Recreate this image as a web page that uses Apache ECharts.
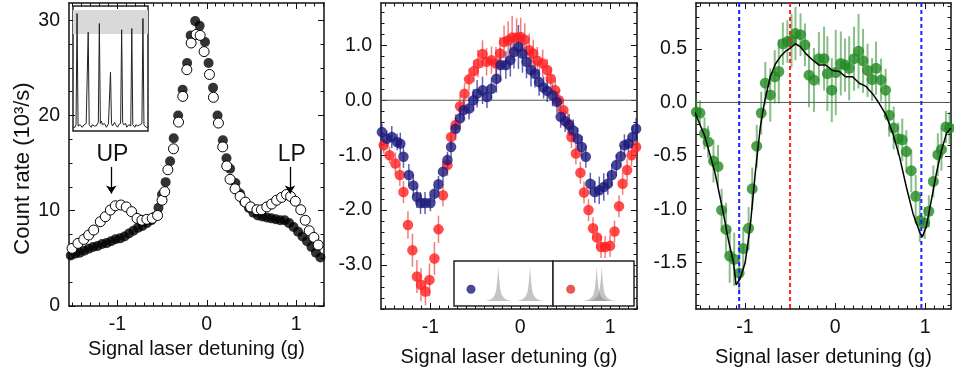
<!DOCTYPE html>
<html>
<head>
<meta charset="utf-8">
<script src="https://cdn.jsdelivr.net/npm/echarts@6/dist/echarts.min.js"></script>
<style>
  html, body { margin: 0; padding: 0; background: #fff; }
  #chart { width: 954px; height: 373px; }
</style>
</head>
<body>
<div id="chart"></div>
<script>
// panel 1: count rate (10^3/s), filled vs open circles
var p1FilledX = [-1.52,-1.47,-1.42,-1.37,-1.32,-1.27,-1.22,-1.17,-1.12,-1.07,-1.02,-0.97,-0.92,-0.87,-0.82,-0.77,-0.72,-0.67,-0.62,-0.58,-0.54,-0.50,-0.46,-0.41,-0.37,-0.32,-0.27,-0.22,-0.18,-0.13,-0.08,-0.02,0.02,0.07,0.12,0.18,0.22,0.26,0.32,0.37,0.42,0.47,0.52,0.57,0.62,0.67,0.72,0.77,0.82,0.87,0.92,0.97,1.02,1.07,1.12,1.17,1.22,1.27];
var p1FilledY = [5.3,5.5,5.6,5.8,6.0,6.2,6.3,6.5,6.6,6.8,7.0,7.1,7.3,7.6,7.9,8.2,8.4,8.7,9.0,9.4,10.3,11.7,13.0,15.2,17.6,20.0,22.7,25.5,28.4,29.9,29.4,27.7,25.5,22.9,20.0,17.4,15.5,14.4,12.9,11.8,10.9,10.3,9.8,9.5,9.4,9.3,9.2,9.1,9.0,9.0,8.7,8.3,7.8,7.3,6.8,6.2,5.6,5.1];
var p1OpenX = [-1.506,-1.44,-1.375,-1.32,-1.264,-1.19,-1.134,-1.078,-1.022,-0.96,-0.90,-0.84,-0.78,-0.725,-0.67,-0.61,-0.55,-0.50,-0.47,-0.435,-0.372,-0.316,-0.268,-0.223,-0.175,-0.119,-0.074,-0.03,0.03,0.074,0.13,0.178,0.223,0.26,0.316,0.372,0.43,0.49,0.56,0.61,0.67,0.725,0.78,0.836,0.89,0.937,0.99,1.05,1.10,1.145,1.197,1.245];
var p1OpenY = [6.05,6.57,6.99,7.45,7.97,8.85,9.37,10.07,10.52,10.6,10.4,9.9,9.2,9.0,9.1,9.2,9.5,11.1,12.0,14.3,16.5,19.3,22.0,24.8,27.6,28.5,28.4,26.7,24.3,21.9,19.2,16.7,14.7,13.3,12.3,11.5,10.9,10.4,10.1,10.1,10.4,10.7,11.1,11.4,11.7,11.5,11.0,10.1,9.0,7.9,7.2,6.4];
var p1TickY = [0, 10, 20, 30];
var detuningTicks = [-1, 0, 1];

// panel 1 inset: spectrum trace (relative)
var insetTrace = [0.03,0.04,0.03,0.05,0.94,0.04,0.03,0.05,0.04,0.03,0.04,0.05,0.04,0.06,0.05,0.79,0.05,0.04,0.03,0.05,0.06,0.04,0.03,0.04,0.05,0.07,0.86,0.06,0.08,0.05,0.04,0.06,0.05,0.03,0.04,0.06,0.05,0.47,0.06,0.04,0.05,0.07,0.05,0.04,0.03,0.05,0.04,0.06,0.81,0.07,0.05,0.04,0.06,0.03,0.04,0.05,0.06,0.04,0.82,0.05,0.04,0.03,0.05,0.06,0.04,0.03,0.05,0.04,0.06,0.90,0.05,0.04,0.03,0.04,0.03];

// panel 2: blue and red data with error bars
var p2BlueX = [-1.54,-1.485,-1.43,-1.37,-1.335,-1.30,-1.24,-1.19,-1.15,-1.11,-1.06,-1.00,-0.955,-0.91,-0.86,-0.81,-0.77,-0.72,-0.67,-0.63,-0.57,-0.52,-0.48,-0.42,-0.37,-0.32,-0.265,-0.22,-0.16,-0.11,-0.07,-0.02,0.025,0.07,0.12,0.165,0.21,0.26,0.30,0.36,0.41,0.45,0.50,0.545,0.59,0.64,0.685,0.73,0.78,0.83,0.88,0.93,0.975,1.02,1.07,1.12,1.16,1.205,1.25,1.29];
var p2BlueY = [-0.58,-0.70,-0.67,-0.76,-0.79,-1.03,-1.36,-1.55,-1.76,-1.87,-1.87,-1.87,-1.70,-1.53,-1.30,-1.09,-0.85,-0.52,-0.33,-0.18,-0.15,0.00,0.12,0.18,0.06,0.21,0.39,0.64,0.64,0.73,0.88,0.97,0.85,0.70,0.55,0.48,0.33,0.23,0.17,0.09,-0.03,-0.30,-0.38,-0.45,-0.55,-0.70,-0.85,-1.03,-1.52,-1.67,-1.64,-1.58,-1.52,-1.36,-1.18,-1.02,-0.82,-0.79,-0.67,-0.52];
var p2BlueErr = [0.15,0.15,0.2,0.15,0.2,0.2,0.2,0.2,0.2,0.2,0.2,0.15,0.15,0.15,0.2,0.15,0.2,0.2,0.2,0.2,0.2,0.2,0.25,0.25,0.2,0.2,0.25,0.3,0.25,0.3,0.3,0.4,0.35,0.3,0.3,0.25,0.25,0.2,0.2,0.2,0.2,0.2,0.2,0.2,0.2,0.2,0.2,0.2,0.2,0.2,0.25,0.25,0.2,0.2,0.2,0.2,0.2,0.15,0.2,0.2];
var p2RedX = [-1.52,-1.455,-1.39,-1.34,-1.30,-1.25,-1.20,-1.15,-1.105,-1.055,-1.01,-0.955,-0.91,-0.86,-0.81,-0.77,-0.72,-0.67,-0.62,-0.57,-0.515,-0.47,-0.42,-0.375,-0.32,-0.27,-0.225,-0.18,-0.135,-0.09,-0.04,0.005,0.05,0.10,0.145,0.19,0.25,0.30,0.34,0.39,0.43,0.48,0.53,0.57,0.62,0.67,0.71,0.76,0.81,0.855,0.90,0.945,1.00,1.05,1.10,1.14,1.19,1.24,1.29];
var p2RedY = [-0.82,-1.00,-1.15,-1.36,-1.67,-2.27,-2.73,-3.21,-3.36,-3.48,-3.27,-2.88,-2.35,-1.73,-1.18,-0.67,-0.45,-0.11,0.12,0.38,0.53,0.67,0.84,0.70,0.73,0.67,0.85,1.06,1.09,1.14,1.14,1.15,1.10,0.91,0.85,0.72,0.67,0.55,0.39,0.18,0.00,-0.18,-0.42,-0.67,-0.97,-1.32,-1.68,-2.00,-2.33,-2.50,-2.67,-2.67,-2.65,-2.39,-1.93,-1.52,-1.27,-1.00,-0.85];
var p2RedErr = [0.15,0.15,0.2,0.2,0.2,0.25,0.3,0.3,0.3,0.25,0.3,0.3,0.25,0.2,0.2,0.2,0.2,0.2,0.2,0.2,0.2,0.25,0.25,0.25,0.25,0.3,0.3,0.3,0.35,0.4,0.35,0.35,0.3,0.3,0.25,0.25,0.25,0.2,0.2,0.2,0.2,0.2,0.2,0.2,0.2,0.2,0.2,0.2,0.2,0.2,0.2,0.2,0.2,0.2,0.2,0.2,0.2,0.2,0.15];
var p2TickY = [-3, -2, -1, 0, 1];

// panel 3: difference data, model curve and marked detunings
var p3X = [-1.54,-1.50,-1.45,-1.41,-1.35,-1.30,-1.26,-1.21,-1.17,-1.12,-1.065,-1.02,-0.96,-0.92,-0.87,-0.82,-0.775,-0.72,-0.67,-0.625,-0.58,-0.53,-0.484,-0.44,-0.384,-0.335,-0.29,-0.235,-0.18,-0.123,-0.086,-0.037,0.007,0.063,0.11,0.156,0.21,0.26,0.31,0.36,0.41,0.454,0.51,0.56,0.60,0.65,0.70,0.745,0.79,0.845,0.894,0.94,0.994,1.04,1.09,1.14,1.18,1.23,1.27];
var p3Y = [-0.09,-0.10,-0.29,-0.37,-0.55,-0.60,-1.01,-1.19,-1.44,-1.47,-1.60,-1.37,-1.18,-0.81,-0.41,-0.10,0.18,0.07,0.24,0.29,0.55,0.57,0.58,0.645,0.635,0.54,0.255,0.21,0.41,0.41,0.27,0.115,0.28,0.365,0.35,0.32,0.41,0.48,0.39,0.30,0.215,0.32,0.21,0.115,-0.12,-0.24,-0.34,-0.35,-0.46,-0.64,-0.88,-1.11,-1.13,-1.02,-0.74,-0.49,-0.44,-0.23,-0.24];
var p3Err = [0.12,0.12,0.15,0.15,0.2,0.2,0.2,0.25,0.25,0.25,0.2,0.2,0.2,0.2,0.2,0.2,0.2,0.25,0.25,0.3,0.2,0.2,0.25,0.25,0.2,0.2,0.3,0.3,0.25,0.3,0.35,0.3,0.4,0.3,0.25,0.3,0.3,0.35,0.3,0.25,0.2,0.25,0.2,0.2,0.2,0.2,0.15,0.2,0.2,0.2,0.2,0.2,0.15,0.15,0.15,0.2,0.2,0.15,0.15];
var p3ModelX = [-1.557,-1.445,-1.333,-1.24,-1.184,-1.128,-1.099,-1.054,-0.998,-0.942,-0.886,-0.83,-0.78,-0.72,-0.663,-0.607,-0.55,-0.495,-0.44,-0.384,-0.328,-0.253,-0.179,-0.104,-0.03,0.045,0.119,0.194,0.268,0.343,0.417,0.49,0.566,0.64,0.715,0.79,0.864,0.94,0.968,1.013,1.069,1.125,1.18,1.236,1.286];
var p3ModelY = [-0.09,-0.32,-0.66,-1.04,-1.29,-1.50,-1.71,-1.65,-1.50,-1.16,-0.66,-0.23,0.02,0.24,0.36,0.43,0.48,0.51,0.55,0.52,0.46,0.40,0.35,0.35,0.30,0.29,0.24,0.24,0.18,0.15,0.08,-0.01,-0.12,-0.29,-0.51,-0.79,-1.04,-1.22,-1.26,-1.16,-0.91,-0.66,-0.45,-0.29,-0.24];
var p3Markers = [-1.065, -0.5, 0.957];
var p3TickY = [-1.5, -1, -0.5, 0, 0.5];

var FONT = "'Liberation Sans', Arial, sans-serif";
var BLUE = '#1c1a7c', RED = '#ff1f1f', GREEN = '#238a23';

function pairs(xs, ys) { return xs.map(function (x, i) { return [x, ys[i]]; }); }
function triples(xs, ys, es) { return xs.map(function (x, i) { return [x, ys[i], es[i]]; }); }

function steps(min, max, step) {
  var out = [];
  for (var k = Math.ceil(min / step - 1e-9); k * step <= max + 1e-9; k++) out.push(+(k * step).toFixed(4));
  return out;
}

var xAxes = [], yAxes = [];
// main + minor ticks on bottom/left, mirrored on top/right
function frameAxes(list, dim, grid, min, max, major, minor, labels, fmt, name, nameGap, namePad) {
  var sides = dim === 'x' ? ['bottom', 'top'] : ['left', 'right'];
  var first = list.length;
  sides.forEach(function (side, s) {
    [steps(min, max, major), steps(min, max, minor)].forEach(function (vals, m) {
      var main = s === 0 && m === 0;
      list.push({
        type: 'value', gridIndex: grid, position: side, min: min, max: max,
        name: main ? name : '', nameLocation: 'middle', nameGap: nameGap,
        nameTextStyle: { fontFamily: FONT, fontSize: dim === 'x' ? 20 : 22, color: '#111', padding: namePad || 0 },
        axisLine: { show: m === 0, onZero: false, lineStyle: { color: '#111', width: 1.5 } },
        axisTick: { show: true, inside: true, length: m === 0 ? 6 : 3.5, customValues: vals, lineStyle: { color: '#111', width: 1 } },
        axisLabel: { show: main, customValues: labels, formatter: fmt, fontFamily: FONT, fontSize: 19.5, color: '#111', margin: 9 },
        splitLine: { show: false }
      });
    });
  });
  return first;
}
function hiddenAxis(list, grid, min, max) {
  list.push({ type: 'value', gridIndex: grid, min: min, max: max, show: false });
  return list.length - 1;
}

var intFmt = function (v) { return String(v); };
var oneDec = function (v) { return v.toFixed(1); };
var xTitle = 'Signal laser detuning (g)';

var x0 = frameAxes(xAxes, 'x', 0, -1.54, 1.31, 1, 0.1, detuningTicks, intFmt, xTitle, 32);
var y0 = frameAxes(yAxes, 'y', 0, 0, 31.8, 10, 2.5, p1TickY, intFmt, 'Count rate (10\u00B3/s)', 29, [0, 28, 0, 0]);
var x1 = frameAxes(xAxes, 'x', 1, -1.55, 1.30, 1, 0.1, detuningTicks, intFmt, xTitle, 38);
var y1 = frameAxes(yAxes, 'y', 1, -3.8, 1.77, 1, 0.2, p2TickY, oneDec, '', 0);
var x2 = frameAxes(xAxes, 'x', 2, -1.544, 1.286, 1, 0.1, detuningTicks, intFmt, xTitle, 38);
var y2 = frameAxes(yAxes, 'y', 2, -1.936, 0.932, 0.5, 0.1, p3TickY, oneDec, '', 0);

var xi3 = hiddenAxis(xAxes, 3, 0, insetTrace.length - 1), yi3 = hiddenAxis(yAxes, 3, 0, 1);
var xi4 = hiddenAxis(xAxes, 4, 0, 99), yi4 = hiddenAxis(yAxes, 4, 0, 45);
var xi5 = hiddenAxis(xAxes, 5, 0, 81), yi5 = hiddenAxis(yAxes, 5, 0, 45);

function errorBars(xi, yi, data, color, width) {
  return {
    type: 'custom', xAxisIndex: xi, yAxisIndex: yi, data: data, silent: true, z: 2,
    encode: { x: 0, y: 1 },
    renderItem: function (params, api) {
      var x = api.value(0), y = api.value(1), e = api.value(2);
      var a = api.coord([x, y + e]), b = api.coord([x, y - e]);
      return { type: 'line', shape: { x1: a[0], y1: a[1], x2: b[0], y2: b[1] }, style: { stroke: color, lineWidth: width } };
    }
  };
}
function refLines(xi, yi, values, horizontal, colors, dash, width, z) {
  return {
    type: 'custom', xAxisIndex: xi, yAxisIndex: yi, silent: true, z: z,
    data: values.map(function (v) { return [v, v]; }),
    encode: horizontal ? { y: 1 } : { x: 0 },
    renderItem: function (params, api) {
      var cs = params.coordSys, v = api.value(0), shape;
      if (horizontal) {
        var py = api.coord([0, v])[1];
        shape = { x1: cs.x, y1: py, x2: cs.x + cs.width, y2: py };
      } else {
        var px = api.coord([v, 0])[0];
        shape = { x1: px, y1: cs.y, x2: px, y2: cs.y + cs.height };
      }
      return { type: 'line', shape: shape, style: { stroke: colors[params.dataIndex % colors.length], lineWidth: width, lineDash: dash } };
    }
  };
}

// gray peak icons for the panel 2 legend boxes
var peakDx = [-13, -9, -6, -4, -3, -2, -1, 0, 1, 2, 3, 4, 6, 9, 13];
var peakRel = [0, 0.03, 0.08, 0.15, 0.22, 0.35, 0.6, 1, 0.6, 0.35, 0.22, 0.15, 0.08, 0.03, 0];
function peakSeries(xi, yi, center) {
  return {
    type: 'line', xAxisIndex: xi, yAxisIndex: yi, symbol: 'none', silent: true, z: 4,
    data: peakDx.map(function (d, i) { return [center + d, 5 + 34.3 * peakRel[i]]; }),
    lineStyle: { width: 0 },
    areaStyle: { color: 'rgba(115,115,115,0.6)', origin: 5 }
  };
}

var option = {
  animation: false,
  backgroundColor: '#fff',
  grid: [
    { left: 69, top: 3, width: 255, height: 303 },
    { left: 381, top: 3, width: 256, height: 306 },
    { left: 696, top: 3, width: 255, height: 306 },
    { left: 73, top: 6, width: 75, height: 125, show: true, backgroundColor: '#fff', borderColor: '#222', borderWidth: 1.5 },
    { left: 454, top: 261, width: 99, height: 45, show: true, backgroundColor: '#fff', borderColor: '#222', borderWidth: 1.5, z: 3 },
    { left: 553, top: 261, width: 81, height: 45, show: true, backgroundColor: '#fff', borderColor: '#222', borderWidth: 1.5, z: 3 }
  ],
  xAxis: xAxes,
  yAxis: yAxes,
  series: [
    // panel 1
    {
      type: 'scatter', xAxisIndex: x0, yAxisIndex: y0, symbolSize: 10, z: 3,
      data: pairs(p1FilledX, p1FilledY), itemStyle: { color: '#000' }
    },
    {
      type: 'scatter', xAxisIndex: x0, yAxisIndex: y0, symbolSize: 10, z: 4,
      data: pairs(p1OpenX, p1OpenY), itemStyle: { color: '#fff', borderColor: '#000', borderWidth: 1, opacity: 1 },
      markLine: {
        silent: true, symbol: ['none', 'arrow'], symbolSize: 8,
        lineStyle: { color: '#000', width: 1.3, type: 'solid' }, label: { show: false },
        data: [
          [{ coord: [-1.067, 14.6] }, { coord: [-1.067, 11.8] }],
          [{ coord: [0.93, 14.6] }, { coord: [0.93, 11.8] }]
        ]
      },
      markPoint: {
        silent: true, symbol: 'rect', symbolSize: 1, itemStyle: { color: 'rgba(0,0,0,0)' },
        label: { show: true, position: 'inside', fontFamily: FONT, fontSize: 23, color: '#111' },
        data: [
          { coord: [-1.055, 15.9], label: { formatter: 'UP' } },
          { coord: [0.95, 15.9], label: { formatter: 'LP' } }
        ]
      }
    },
    // panel 1 inset
    {
      type: 'line', xAxisIndex: xi3, yAxisIndex: yi3, symbol: 'none', silent: true, z: 5,
      data: insetTrace.map(function (v, i) { return [i, v]; }),
      lineStyle: { color: '#222', width: 1 },
      markArea: {
        silent: true, itemStyle: { color: '#d9d9d9' },
        data: [[{ xAxis: 0, yAxis: 0.776 }, { xAxis: insetTrace.length - 1, yAxis: 0.968 }]]
      }
    },
    // panel 2
    refLines(x1, y1, [0], true, ['#555'], null, 1, 1),
    errorBars(x1, y1, triples(p2RedX, p2RedY, p2RedErr), 'rgba(240,50,50,0.65)', 1.5),
    { type: 'scatter', xAxisIndex: x1, yAxisIndex: y1, symbolSize: 10.5, z: 3, data: pairs(p2RedX, p2RedY), itemStyle: { color: RED } },
    errorBars(x1, y1, triples(p2BlueX, p2BlueY, p2BlueErr), 'rgba(30,30,150,0.7)', 1.5),
    { type: 'scatter', xAxisIndex: x1, yAxisIndex: y1, symbolSize: 10.5, z: 3, data: pairs(p2BlueX, p2BlueY), itemStyle: { color: BLUE } },
    // panel 2 legend boxes
    { type: 'scatter', xAxisIndex: xi4, yAxisIndex: yi4, symbolSize: 9, z: 5, silent: true, data: [[17, 16.7]], itemStyle: { color: BLUE } },
    peakSeries(xi4, yi4, 44.3),
    peakSeries(xi4, yi4, 76),
    { type: 'scatter', xAxisIndex: xi5, yAxisIndex: yi5, symbolSize: 9, z: 5, silent: true, data: [[17.7, 16.7]], itemStyle: { color: '#e0302a' } },
    peakSeries(xi5, yi5, 43.7),
    peakSeries(xi5, yi5, 48.7),
    // panel 3
    refLines(x2, y2, [0], true, ['#555'], null, 1, 1),
    errorBars(x2, y2, triples(p3X, p3Y, p3Err), 'rgba(40,140,40,0.55)', 2),
    { type: 'scatter', xAxisIndex: x2, yAxisIndex: y2, symbolSize: 11, z: 3, data: pairs(p3X, p3Y), itemStyle: { color: GREEN } },
    refLines(x2, y2, p3Markers, false, ['#1f1fff', '#ff2020', '#1f1fff'], [4, 3], 2, 4),
    {
      type: 'line', xAxisIndex: x2, yAxisIndex: y2, symbol: 'none', silent: true, z: 5,
      data: pairs(p3ModelX, p3ModelY), lineStyle: { color: '#000', width: 1.5 }
    }
  ]
};

var chart = echarts.init(document.getElementById('chart'));
chart.setOption(option);
</script>
</body>
</html>
